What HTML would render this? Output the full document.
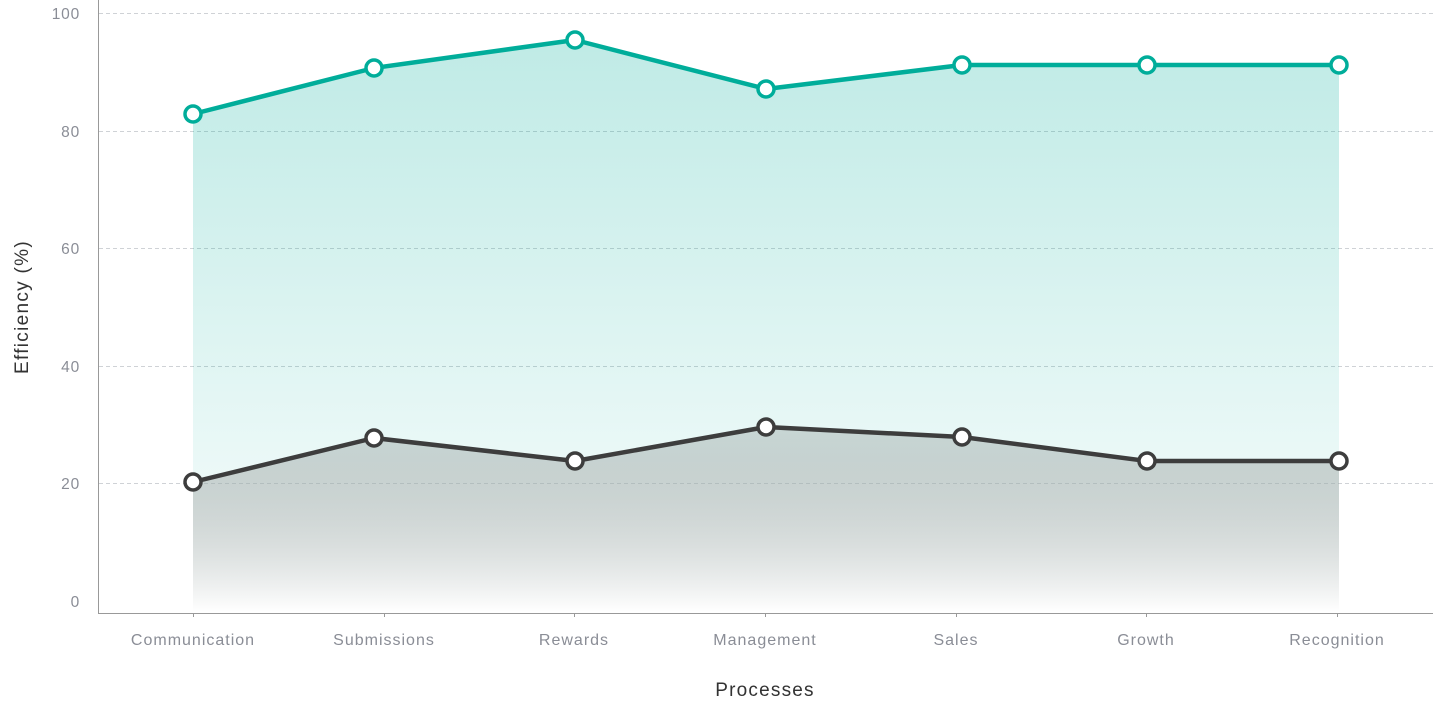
<!DOCTYPE html>
<html><head><meta charset="utf-8"><style>
html,body{margin:0;padding:0;background:#fff;}
svg{display:block;font-family:"Liberation Sans",sans-serif;}
</style></head><body>
<svg width="1433" height="709" viewBox="0 0 1433 709">
<defs>
<linearGradient id="g1" gradientUnits="userSpaceOnUse" x1="0" y1="40" x2="0" y2="612">
<stop offset="0" stop-color="#00ad9a" stop-opacity="0.25"/>
<stop offset="1" stop-color="#00ad9a" stop-opacity="0.02"/>
</linearGradient>
<linearGradient id="g2" gradientUnits="userSpaceOnUse" x1="0" y1="427" x2="0" y2="612">
<stop offset="0" stop-color="#7f8a88" stop-opacity="0.3"/>
<stop offset="1" stop-color="#ffffff" stop-opacity="1"/>
</linearGradient>
</defs>
<g stroke="#cfd2d6" stroke-dasharray="4,3" stroke-width="1">
<line x1="99" x2="1433" y1="13.5" y2="13.5"/>
<line x1="99" x2="1433" y1="131.5" y2="131.5"/>
<line x1="99" x2="1433" y1="248.5" y2="248.5"/>
<line x1="99" x2="1433" y1="366.5" y2="366.5"/>
<line x1="99" x2="1433" y1="483.5" y2="483.5"/>
</g>
<path d="M193,114 L374,68 L575,40 L766,89 L962,65 L1147,65 L1339,65 L1339,612 L193,612 Z" fill="url(#g1)"/>
<path d="M193,482 L374,438 L575,461 L766,427 L962,437 L1147,461 L1339,461 L1339,612 L193,612 Z" fill="url(#g2)"/>
<line x1="98.5" y1="0" x2="98.5" y2="613" stroke="#999" stroke-width="1"/>
<line x1="98" y1="613.5" x2="1433" y2="613.5" stroke="#999" stroke-width="1"/>
<g stroke="#999"><line x1="193.5" x2="193.5" y1="613" y2="617"/><line x1="384.5" x2="384.5" y1="613" y2="617"/><line x1="574.5" x2="574.5" y1="613" y2="617"/><line x1="765.5" x2="765.5" y1="613" y2="617"/><line x1="956.5" x2="956.5" y1="613" y2="617"/><line x1="1146.5" x2="1146.5" y1="613" y2="617"/><line x1="1337.5" x2="1337.5" y1="613" y2="617"/></g>
<polyline points="193,114 374,68 575,40 766,89 962,65 1147,65 1339,65" fill="none" stroke="#00ad9a" stroke-width="4.5" stroke-linejoin="round"/>
<polyline points="193,482 374,438 575,461 766,427 962,437 1147,461 1339,461" fill="none" stroke="#3d3d3d" stroke-width="4.5" stroke-linejoin="round"/>
<g fill="#fff" stroke="#00ad9a" stroke-width="3.5">
<circle cx="193" cy="114" r="8"/><circle cx="374" cy="68" r="8"/><circle cx="575" cy="40" r="8"/><circle cx="766" cy="89" r="8"/><circle cx="962" cy="65" r="8"/><circle cx="1147" cy="65" r="8"/><circle cx="1339" cy="65" r="8"/>
</g>
<g fill="#fff" stroke="#3d3d3d" stroke-width="3.5">
<circle cx="193" cy="482" r="8"/><circle cx="374" cy="438" r="8"/><circle cx="575" cy="461" r="8"/><circle cx="766" cy="427" r="8"/><circle cx="962" cy="437" r="8"/><circle cx="1147" cy="461" r="8"/><circle cx="1339" cy="461" r="8"/>
</g>
<g fill="#8a8d96" font-size="15.5" text-anchor="end" letter-spacing="0.8">
<text x="80" y="19">100</text><text x="80" y="137">80</text><text x="80" y="254">60</text><text x="80" y="372">40</text><text x="80" y="489">20</text><text x="80" y="607">0</text>
</g>
<g fill="#8a8d96" font-size="16" text-anchor="middle" letter-spacing="1">
<text x="193" y="645">Communication</text><text x="384" y="645">Submissions</text><text x="574" y="645">Rewards</text><text x="765" y="645">Management</text><text x="956" y="645">Sales</text><text x="1146" y="645">Growth</text><text x="1337" y="645">Recognition</text>
</g>
<text x="765" y="696" font-size="19" fill="#333" text-anchor="middle" letter-spacing="1.2">Processes</text>
<text transform="translate(28,307) rotate(-90)" font-size="19" fill="#333" text-anchor="middle" letter-spacing="1.3">Efficiency (%)</text>
</svg>
</body></html>
